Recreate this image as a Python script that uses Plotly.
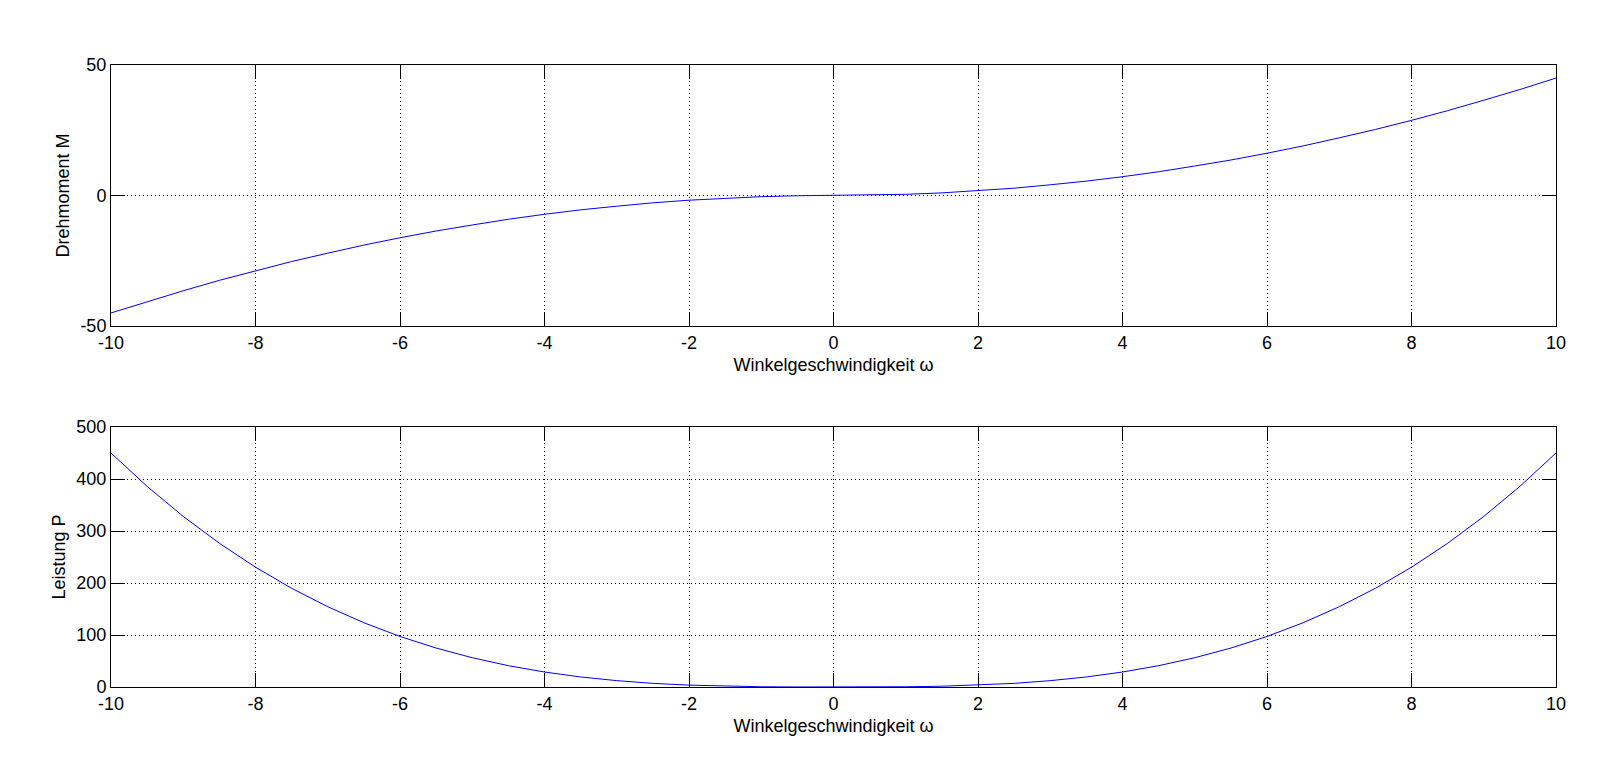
import plotly.graph_objects as go

# angular velocity samples (step 0.5)
omega = [-10, -9.5, -9, -8.5, -8, -7.5, -7, -6.5, -6, -5.5, -5, -4.5, -4, -3.5, -3, -2.5, -2, -1.5, -1, -0.5,
         0, 0.5, 1, 1.5, 2, 2.5, 3, 3.5, 4, 4.5, 5, 5.5, 6, 6.5, 7, 7.5, 8, 8.5, 9, 9.5, 10]

# torque M
torque = [-45.0, -40.6, -36.5, -32.5, -28.8, -25.3, -22.1, -19.0, -16.2, -13.6, -11.3, -9.1, -7.2, -5.5, -4.1,
          -2.8, -1.8, -1.0, -0.45, -0.1, 0.0, 0.1, 0.45, 1.0, 1.8, 2.8, 4.1, 5.5, 7.2, 9.1, 11.3, 13.6, 16.2,
          19.0, 22.1, 25.3, 28.8, 32.5, 36.5, 40.6, 45.0]

# power P
power = [450.0, 385.8, 328.0, 276.4, 230.4, 189.8, 154.4, 123.6, 97.2, 74.9, 56.3, 41.0, 28.8, 19.3, 12.2, 7.0,
         3.6, 1.5, 0.45, 0.06, 0.0, 0.06, 0.45, 1.5, 3.6, 7.0, 12.2, 19.3, 28.8, 41.0, 56.3, 74.9, 97.2, 123.6,
         154.4, 189.8, 230.4, 276.4, 328.0, 385.8, 450.0]

x_ticks = [-10, -8, -6, -4, -2, 0, 2, 4, 6, 8, 10]
x_labels = ["-10", "-8", "-6", "-4", "-2", "0", "2", "4", "6", "8", "10"]
m_ticks = [-50, 0, 50]
m_labels = ["-50", "0", "50"]
p_ticks = [0, 100, 200, 300, 400, 500]
p_labels = ["0", "100", "200", "300", "400", "500"]

x_title = "Winkelgeschwindigkeit \u03c9"
m_title = "Drehmoment M"
p_title = "Leistung P"

FONT = "Liberation Sans, Arial, Helvetica, sans-serif"
FS = 18

fig = go.Figure()
fig.add_trace(go.Scatter(x=omega, y=torque, mode="lines", line=dict(color="#0000ff", width=1),
                         xaxis="x", yaxis="y", showlegend=False))
fig.add_trace(go.Scatter(x=omega, y=power, mode="lines", line=dict(color="#0000ff", width=1),
                         xaxis="x2", yaxis="y2", showlegend=False))

axis_common = dict(
    showline=True, linecolor="black", linewidth=1, mirror="ticks",
    ticks="inside", ticklen=14, tickcolor="black", tickwidth=1,
    showgrid=True, gridcolor="black", gridwidth=1, griddash="1px,3px",
    zeroline=False, tickfont=dict(family=FONT, size=FS, color="black"),
)

fig.update_layout(
    width=1618, height=763,
    paper_bgcolor="white", plot_bgcolor="white",
    margin=dict(l=103, r=70, t=57, b=84),
    font=dict(family=FONT, size=FS, color="black"),
    xaxis=dict(axis_common, domain=[0, 1], anchor="y", range=[-10, 10], tickvals=x_ticks, ticktext=x_labels,
               title=dict(text=x_title, standoff=6, font=dict(family=FONT, size=FS))),
    yaxis=dict(axis_common, domain=[0.5804, 1], anchor="x", range=[-50, 50], tickvals=m_ticks, ticktext=m_labels,
               title=dict(text=m_title, standoff=6, font=dict(family=FONT, size=FS))),
    xaxis2=dict(axis_common, domain=[0, 1], anchor="y2", range=[-10, 10], tickvals=x_ticks, ticktext=x_labels,
                title=dict(text=x_title, standoff=6, font=dict(family=FONT, size=FS))),
    yaxis2=dict(axis_common, domain=[0, 0.418], anchor="x2", range=[0, 500], tickvals=p_ticks, ticktext=p_labels,
                title=dict(text=p_title, standoff=6, font=dict(family=FONT, size=FS))),
)

fig.write_html("out.html")
